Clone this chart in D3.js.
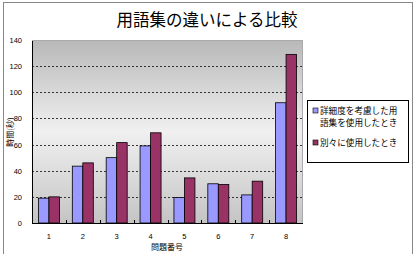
<!DOCTYPE html>
<html>
<head>
<meta charset="utf-8">
<script src="https://cdn.jsdelivr.net/npm/d3@7"></script>
<style>
  body { margin: 0; background: #fff; }
  svg { display: block; font-family: "Noto Sans CJK JP", sans-serif; }
</style>
</head>
<body>
<svg></svg>
<script>
const categories = ['1', '2', '3', '4', '5', '6', '7', '8'];
const seriesNames = [['詳細度を考慮した用', '語集を使用したとき'], ['別々に使用したとき']];
const detailed = [19, 43.5, 50, 59, 19.5, 30, 21.5, 92];
const separate = [20, 46, 61.5, 69, 34.5, 29.5, 32, 129];
const yTicks = [0, 20, 40, 60, 80, 100, 120, 140];
const colors = ['#9999ff', '#993366'];

const size = {w: 417, h: 254};
const plot = {l: 32, t: 40, r: 303, b: 223};
const svg = d3.select('svg').attr('width', size.w).attr('height', size.h);

// outer chart frame
svg.append('rect')
    .attr('x', 3.5).attr('y', 2.5)
    .attr('width', 409).attr('height', 260)
    .attr('fill', 'none').attr('stroke', '#888');

const defs = svg.append('defs');
const grad = defs.append('linearGradient').attr('id', 'bg')
    .attr('x1', 0).attr('y1', 0).attr('x2', 0).attr('y2', 1);
grad.append('stop').attr('offset', '0%').attr('stop-color', '#b8b8b8');
grad.append('stop').attr('offset', '50%').attr('stop-color', '#f0f0f0');
grad.append('stop').attr('offset', '100%').attr('stop-color', '#c4c4c4');

const x = d3.scaleBand().domain(categories).range([plot.l, plot.r]);
const y = d3.scaleLinear().domain([0, 140]).range([plot.b, plot.t]);

svg.append('rect')
    .attr('x', plot.l).attr('y', plot.t)
    .attr('width', plot.r - plot.l).attr('height', plot.b - plot.t)
    .attr('fill', 'url(#bg)');

// dashed gridlines
svg.append('g')
    .selectAll('line')
    .data(yTicks.filter(d => d > 0 && d < 140))
    .join('line')
    .attr('x1', plot.l).attr('x2', plot.r)
    .attr('y1', d => Math.round(y(d)) + 0.5).attr('y2', d => Math.round(y(d)) + 0.5)
    .attr('stroke', '#222')
    .attr('stroke-width', 0.9)
    .attr('stroke-dasharray', '2,2');

// plot border lines
svg.append('line')
    .attr('x1', plot.l + 0.5).attr('x2', plot.l + 0.5)
    .attr('y1', plot.t).attr('y2', plot.b)
    .attr('stroke', '#000');
svg.append('line')
    .attr('x1', plot.l).attr('x2', plot.r)
    .attr('y1', plot.b + 0.5).attr('y2', plot.b + 0.5)
    .attr('stroke', '#000');
svg.append('line')
    .attr('x1', plot.l).attr('x2', plot.r)
    .attr('y1', plot.t + 0.5).attr('y2', plot.t + 0.5)
    .attr('stroke', '#aaa');
svg.append('line')
    .attr('x1', plot.r - 0.5).attr('x2', plot.r - 0.5)
    .attr('y1', plot.t).attr('y2', plot.b)
    .attr('stroke', '#aaa');

// category ticks (inside, between categories)
svg.append('g')
    .selectAll('line')
    .data(categories.slice(1))
    .join('line')
    .attr('x1', d => Math.round(x(d)) + 0.5).attr('x2', d => Math.round(x(d)) + 0.5)
    .attr('y1', plot.b).attr('y2', plot.b - 3)
    .attr('stroke', '#000');

// bars
const barW = 10.5;
const series = [detailed, separate];
series.forEach((vals, si) => {
    svg.append('g')
        .selectAll('rect')
        .data(vals)
        .join('rect')
        .attr('x', (d, i) => x(categories[i]) + x.bandwidth() / 2 - barW + si * barW)
        .attr('y', d => y(d))
        .attr('width', barW)
        .attr('height', d => plot.b - y(d))
        .attr('fill', colors[si])
        .attr('stroke', '#000')
        .attr('stroke-width', 0.8);
});

// y tick labels
svg.append('g')
    .attr('font-size', 7.5)
    .attr('font-family', 'Arial, "Liberation Sans", sans-serif')
    .selectAll('text')
    .data(yTicks)
    .join('text')
    .attr('x', 22)
    .attr('y', d => y(d) + 3)
    .attr('text-anchor', 'end')
    .text(d => d);

// x tick labels
svg.append('g')
    .attr('font-size', 7.5)
    .attr('font-family', 'Arial, "Liberation Sans", sans-serif')
    .selectAll('text')
    .data(categories)
    .join('text')
    .attr('x', d => x(d) + x.bandwidth() / 2)
    .attr('y', 239)
    .attr('text-anchor', 'middle')
    .text(d => d);

// titles
svg.append('text')
    .attr('x', 207).attr('y', 26)
    .attr('text-anchor', 'middle')
    .attr('font-size', 16.5)
    .text('用語集の違いによる比較');

svg.append('text')
    .attr('x', 167).attr('y', 250)
    .attr('text-anchor', 'middle')
    .attr('font-size', 8)
    .text('問題番号');

svg.append('text')
    .attr('transform', 'translate(13,132) rotate(-90)')
    .attr('text-anchor', 'middle')
    .attr('font-size', 8)
    .text('時間(秒)');

// legend
const legend = svg.append('g');
legend.append('rect')
    .attr('x', 307.5).attr('y', 100.5)
    .attr('width', 101).attr('height', 62)
    .attr('fill', '#fff').attr('stroke', '#000');
const legendRows = [114, 146];
seriesNames.forEach((lines, i) => {
    legend.append('rect')
        .attr('x', 313).attr('y', legendRows[i] - 6)
        .attr('width', 5).attr('height', 5)
        .attr('fill', colors[i]).attr('stroke', '#000').attr('stroke-width', 0.6);
    lines.forEach((t, j) => {
        legend.append('text')
            .attr('x', 320).attr('y', legendRows[i] + j * 12)
            .attr('font-size', 8.6)
            .text(t);
    });
});
</script>
</body>
</html>
